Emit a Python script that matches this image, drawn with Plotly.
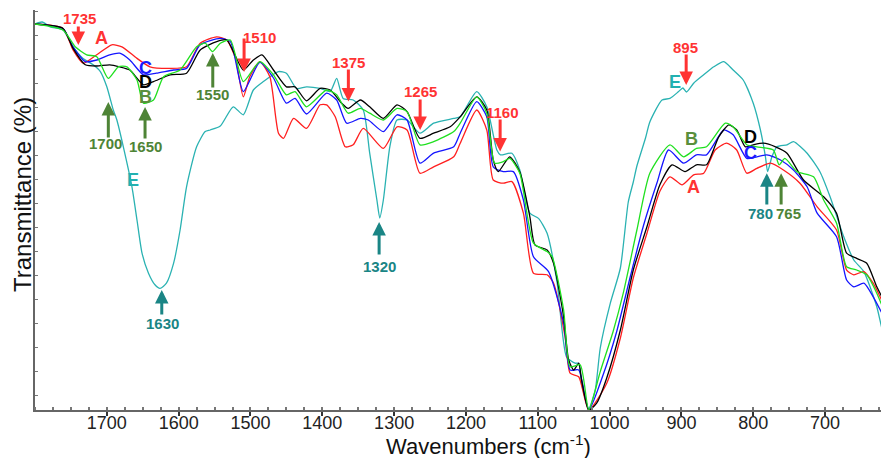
import plotly.graph_objects as go

# ---------------- data (wavenumber cm-1, transmittance arbitrary %) ----------------
A_wn = [1800,1761,1747,1733,1714,1693,1679,1658,1640,1612,1589,1570,1547,1533,1521,1510,1501,1487,1473,1461,1454,1440,1422,1403,1394,1382,1368,1357,1343,1315,1296,1282,1264,1245,1217,1208,1185,1171,1162,1148,1136,1120,1106,1087,1078,1062,1055,1043,1029,1004,985,967,948,930,916,899,883,869,853,837,823,809,795,776,758,735,711,684,670,660,646,633,619,611]
A_T = [96.5,95.4,90.0,86.7,88.8,91.3,90.8,87.9,85.8,85.4,85.8,91.7,93.3,92.5,88.0,78.3,83.3,87.1,83.3,69.2,67.9,72.9,70.4,76.3,76.3,73.3,65.8,66.3,70.4,65.4,70.8,70.0,59.2,60.8,63.3,66.7,75.0,70.0,57.5,56.7,57.1,49.2,34.2,33.8,31.7,18.3,9.2,8.3,0.0,6.7,18.0,33.0,44.2,54.7,58.3,56.3,58.8,59.2,65.0,66.7,65.0,59.2,60.4,61.7,60.0,56.7,50.8,45.0,35.0,33.8,34.6,31.7,26.7,24.2]

B_wn = [1800,1761,1744,1728,1714,1698,1684,1672,1658,1649,1635,1621,1598,1575,1563,1553,1542,1528,1510,1487,1468,1450,1438,1422,1394,1380,1364,1347,1334,1315,1296,1282,1264,1245,1217,1208,1185,1171,1160,1148,1139,1125,1106,1087,1080,1064,1055,1041,1029,1013,995,981,962,944,916,897,879,865,839,828,809,795,772,764,756,739,716,702,684,670,656,642,628,611]
B_T = [96.5,95.0,90.8,88.8,88.3,82.9,85.8,85.8,82.5,76.7,77.5,83.3,85.0,90.8,91.7,89.6,91.7,92.5,82.1,87.1,83.8,78.8,79.6,75.8,80.0,78.8,74.2,75.4,74.2,72.5,75.4,74.6,66.3,67.1,69.6,71.7,78.3,74.2,61.7,62.1,62.9,59.2,41.7,39.6,38.3,25.0,10.8,11.3,0.0,9.6,19.7,29.2,45.0,59.2,66.3,63.3,65.4,65.8,71.7,70.8,66.3,65.8,65.0,61.3,62.9,59.6,58.3,52.5,46.7,35.8,35.0,33.8,29.2,21.7]

C_wn = [1800,1761,1747,1730,1714,1696,1682,1668,1649,1631,1607,1589,1570,1542,1528,1510,1487,1468,1450,1438,1422,1394,1380,1366,1347,1336,1315,1296,1282,1264,1245,1217,1208,1185,1171,1162,1148,1134,1120,1106,1085,1064,1055,1043,1029,1009,990,971,953,934,918,897,879,865,841,828,809,795,781,762,744,725,711,684,670,660,646,633,611]
C_T = [96.5,95.3,90.8,87.1,87.5,88.8,89.2,87.5,83.8,84.2,85.0,85.4,91.3,92.9,92.1,79.6,86.9,83.0,76.7,77.9,74.0,79.2,77.5,71.7,72.9,72.5,69.6,73.8,72.5,61.7,64.2,65.8,69.2,77.1,73.3,60.8,59.6,59.6,52.5,38.3,34.6,21.7,10.0,10.0,0.0,8.8,19.7,33.5,46.0,56.8,65.0,61.7,63.8,63.8,70.0,68.8,62.9,63.3,63.8,62.5,60.0,55.8,49.2,43.3,32.5,30.8,31.7,28.3,20.8]

D_wn = [1800,1761,1747,1730,1714,1696,1682,1668,1649,1635,1612,1589,1570,1547,1533,1510,1496,1484,1468,1450,1438,1422,1403,1389,1373,1364,1347,1334,1315,1296,1282,1264,1245,1222,1208,1185,1171,1162,1155,1139,1125,1111,1104,1087,1078,1064,1057,1050,1043,1039,1029,1018,1004,985,967,948,930,913,895,879,865,848,834,823,811,800,786,769,753,730,702,684,670,656,642,628,611]
D_T = [96.5,95.4,90.4,86.3,86.0,86.3,85.8,85.0,81.3,82.1,83.8,84.2,90.0,92.1,92.5,85.0,87.5,88.8,85.0,80.8,80.8,77.3,80.4,80.0,76.7,75.4,77.5,75.8,72.9,76.3,74.6,67.9,69.2,70.8,73.3,78.3,75.0,62.5,59.6,63.3,59.5,48.3,41.3,40.0,36.7,23.3,12.5,10.0,11.7,7.5,0.0,1.7,8.0,20.0,35.0,45.8,56.3,61.3,59.6,61.3,61.3,68.3,71.3,70.0,65.8,66.3,66.7,65.8,64.2,57.5,53.3,49.2,39.2,37.9,36.7,30.8,25.0]

E_wn = [1800,1790,1779,1761,1747,1733,1719,1709,1700,1691,1686,1677,1665,1658,1651,1642,1633,1626,1617,1607,1598,1589,1575,1563,1556,1542,1524,1510,1496,1482,1461,1450,1436,1422,1403,1389,1380,1371,1357,1343,1334,1324,1320,1315,1306,1296,1282,1264,1245,1217,1208,1185,1171,1157,1152,1136,1125,1111,1099,1087,1073,1060,1048,1043,1039,1029,1020,1013,999,985,974,967,962,950,944,927,916,904,898,893,883,869,855,841,828,814,800,790,783,780,774,767,753,744,725,707,693,674,660,646,628,619,611]
E_T = [96.5,97.0,95.8,95.0,90.8,87.9,86.3,84.6,80.8,75.0,72.5,65.8,55.8,47.5,39.2,34.2,31.3,30.4,31.7,36.7,45.0,55.8,65.8,69.6,70.0,71.0,75.8,73.8,80.0,82.1,84.6,84.2,80.4,80.8,80.4,79.6,82.9,77.9,77.5,75.0,64.2,52.5,48.0,52.5,65.8,72.5,72.5,69.2,71.7,72.9,73.3,79.6,75.8,65.0,63.8,64.2,60.0,49.2,47.9,44.2,31.7,13.3,11.7,11.7,6.7,0.4,5.0,15.5,26.7,35.5,52.0,57.0,61.0,68.0,72.0,77.5,77.9,79.6,80.5,79.5,81.7,83.8,85.8,87.1,85.0,82.5,76.7,70.0,63.3,59.6,63.3,65.8,66.3,67.1,64.2,59.5,53.3,43.3,37.5,34.6,25.8,19.2,16.7]

x_ticks = [1700, 1600, 1500, 1400, 1300, 1200, 1100, 1000, 900, 800, 700]

# peak markers: label, arrow x, arrow head T, arrow tail T, label x, label T, group
peak_labels = ["1735", "1510", "1375", "1265", "1160", "895", "1700", "1650", "1550", "765", "1630", "1320", "780"]
peak_arrow_x = [1739.7, 1508.9, 1363.7, 1263.8, 1152.4, 893.4, 1697.9, 1646.8, 1552.5, 761.2, 1623.5, 1320.9, 781.1]
peak_head_T = [91.25, 84.5, 77.1, 70.0, 64.6, 81.25, 77.0, 75.75, 89.25, 59.2, 30.0, 47.0, 59.2]
peak_tail_T = [96.25, 93.25, 85.5, 78.0, 73.0, 89.25, 67.75, 67.5, 80.25, 51.0, 23.5, 38.5, 51.0]
peak_label_x = [1738.7, 1487.4, 1364.1, 1263.8, 1148.9, 894.8, 1702.5, 1645.7, 1552.5, 750.9, 1623.1, 1320.9, 790.4]
peak_label_T = [98.0, 93.25, 87.0, 79.75, 74.5, 90.75, 66.75, 66.0, 79.0, 49.25, 21.75, 36.0, 49.25]
peak_group = ["r", "r", "r", "r", "r", "r", "g", "g", "g", "g", "t", "t", "t"]

# series letter tags
tag_text = ["A", "C", "D", "B", "E", "E", "B", "D", "C", "A"]
tag_x = [1707.1, 1646.8, 1646.8, 1646.8, 1663.5, 908.8, 885.5, 804.3, 804.3, 883.3]
tag_T = [93.0, 85.5, 82.0, 78.25, 57.5, 82.1, 67.75, 68.25, 64.25, 55.75]

# ---------------- styles ----------------
line_colors = {"A": "#ff1f1f", "B": "#1fe01f", "C": "#1414ff", "D": "#000000", "E": "#2ab2b2"}
group_colors = {"r": "#ff3333", "g": "#4e8436", "t": "#1a8585"}
tag_colors = {"A": "#ff3333", "B": "#5a8f3c", "C": "#1a1aff", "D": "#000000", "E": "#22b0b0"}
ann_font = "Liberation Sans Narrow, Arial Narrow, Liberation Sans, Arial, sans-serif"
base_font = "Liberation Sans, Arial, sans-serif"

fig = go.Figure()
series = [("E", E_wn, E_T), ("A", A_wn, A_T), ("C", C_wn, C_T), ("D", D_wn, D_T), ("B", B_wn, B_T)]
for name, xs, ys in series:
    n = min(len(xs), len(ys))
    fig.add_trace(go.Scatter(
        x=xs[:n], y=ys[:n], mode="lines", name=name, showlegend=False,
        line=dict(color=line_colors[name], width=1.3, shape="spline", smoothing=0.6),
        hoverinfo="skip"))

annotations = []
for i, lab in enumerate(peak_labels):
    col = group_colors[peak_group[i]]
    annotations.append(dict(
        x=peak_arrow_x[i], y=peak_head_T[i], ax=peak_arrow_x[i], ay=peak_tail_T[i],
        xref="x", yref="y", axref="x", ayref="y", text="", showarrow=True,
        arrowhead=2, arrowsize=0.9, arrowwidth=3, arrowcolor=col))
    annotations.append(dict(
        x=peak_label_x[i], y=peak_label_T[i], xref="x", yref="y", text="<b>" + lab + "</b>",
        showarrow=False, font=dict(family=ann_font, size=15, color=col),
        xanchor="center", yanchor="middle"))

for t, x, y in zip(tag_text, tag_x, tag_T):
    annotations.append(dict(
        x=x, y=y, xref="x", yref="y", text="<b>" + t + "</b>", showarrow=False,
        font=dict(family=base_font, size=18, color=tag_colors[t]),
        xanchor="center", yanchor="middle"))

annotations.append(dict(
    x=0.5316, y=-0.0875, xref="paper", yref="paper", text="Wavenumbers (cm<sup>-1</sup>)",
    showarrow=False, font=dict(family=base_font, size=22, color="#111"),
    xanchor="center", yanchor="middle"))
annotations.append(dict(
    x=-0.0152, y=0.5375, xref="paper", yref="paper", text="Transmittance (%)", textangle=-90,
    showarrow=False, font=dict(family=base_font, size=24, color="#111"),
    xanchor="center", yanchor="middle"))

# the page body adds an 8px margin, so the figure is 8px smaller and margins shifted
fig.update_layout(
    width=881, height=450,
    margin=dict(l=27, r=0, t=2, b=48),
    paper_bgcolor="white", plot_bgcolor="white",
    annotations=annotations,
    xaxis=dict(
        range=[1800, 611], autorange=False, showgrid=False, zeroline=False,
        showline=True, linecolor="#666", linewidth=1.5,
        tickmode="array", tickvals=x_ticks, ticktext=[str(v) for v in x_ticks],
        ticks="outside", ticklen=4, tickwidth=2, tickcolor="#333",
        ticklabelstandoff=-8,
        tickfont=dict(family=base_font, size=18, color="#222"),
        minor=dict(dtick=25, tick0=1700, ticks="inside", ticklen=3, tickcolor="#777"),
    ),
    yaxis=dict(
        range=[0, 100], autorange=False, showgrid=False, zeroline=False,
        showline=True, linecolor="#666", linewidth=1.5,
        showticklabels=False, ticks="inside", ticklen=3, tickcolor="#777",
        tick0=3.7, dtick=6,
    ),
)

fig.write_html("out.html")
